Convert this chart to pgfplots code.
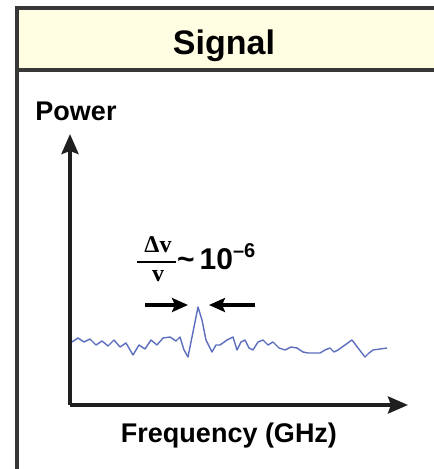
\documentclass[border=0pt]{standalone}
\usepackage{pgfplots}
\pgfplotsset{compat=1.18}
\usetikzlibrary{arrows.meta}
\usepackage{fontspec}
\setmainfont{Liberation Sans}
\newfontfamily\serif{Liberation Serif}
\definecolor{cream}{RGB}{255,253,226}
\definecolor{boxline}{RGB}{55,55,55}
\definecolor{sig}{RGB}{65,85,180}
\begin{document}
\begin{tikzpicture}[x=1pt,y=1pt]
\useasboundingbox (0,0) rectangle (434,469);
% header box
\fill[cream] (17,399) rectangle (434,461);
\draw[boxline,line width=3.2pt] (434,461) -- (17,461) -- (17,0);
\draw[boxline,line width=3.2pt] (17,399) -- (434,399);
\node[font=\bfseries\fontsize{34}{36}\selectfont, anchor=base] at (224,414) {Signal};
\begin{axis}[
  at={(70pt,64pt)}, anchor=south west,
  scale only axis, width=338pt, height=271pt,
  xmin=70, xmax=408, ymin=64, ymax=335,
  axis lines=left, ticks=none, clip=false,
  axis line style={line width=3.6pt, color=black!88},
  x axis line style={line width=3.6pt,-{Stealth[length=20pt,width=17pt,inset=3pt]}},
  y axis line style={line width=3.6pt,-{Stealth[length=20pt,width=17pt,inset=3pt]}},
]
\addplot[sig, line width=1.4pt, opacity=0.85, line join=round] coordinates {
(72,127)(78,131)(84,127)(90,130)(96,124)(102,128)(108,123)(114,129)(120,122)(126,126)
(133,114)(139,124)(145,120)(151,129)(157,124)(163,131)(170,132)(176,128)(180,132)
(184,119)(188,112)(193,137)(198,162)(202,149)(206,129)(212,117)(216,124)(220,124)
(227,129)(233,132)(237,119)(241,127)(245,129)(249,121)(253,119)(258,127)(263,129)
(268,124)(273,127)(279,121)(285,119)(291,122)(297,121)(303,117)(308,116)(314,116)
(320,116)(325,119)(330,121)(334,117)(338,119)(345,124)(352,129)(358,121)(365,112)
(369,116)(373,119)(380,120)(387,121)
};
\end{axis}
% labels
\node[font=\bfseries\fontsize{27}{30}\selectfont, anchor=base] at (76,348) {Power};
\node[font=\bfseries\fontsize{27}{30}\selectfont, anchor=base] at (229,26) {Frequency (GHz)};
% annotation
\node[font=\serif\bfseries\fontsize{24}{26}\selectfont, anchor=base, inner sep=0pt] at (158,216) {Δv};
\draw[line width=1.8pt] (137,207) -- (176,207);
\node[font=\serif\bfseries\fontsize{24}{26}\selectfont, anchor=base, inner sep=0pt] at (158,187) {v};
\node[font=\bfseries\fontsize{30}{32}\selectfont, anchor=base west, inner sep=0pt] at (177,199) {\textasciitilde\,10\raisebox{12pt}{\fontsize{20}{22}\selectfont –6}};
\draw[line width=3.2pt,-{Stealth[length=16pt,width=14pt,inset=3pt]}] (145,164) -- (188,164);
\draw[line width=3.2pt,-{Stealth[length=16pt,width=14pt,inset=3pt]}] (255,164) -- (209,164);
\end{tikzpicture}
\end{document}
